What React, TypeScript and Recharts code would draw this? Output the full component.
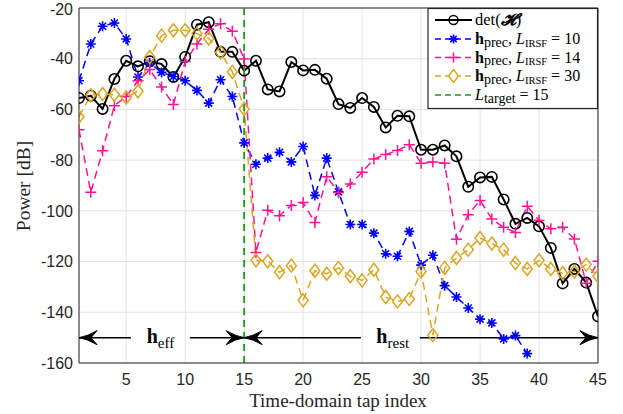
import React from 'react';
import { ComposedChart, Line, Scatter, XAxis, YAxis, CartesianGrid, ReferenceLine, Customized } from 'recharts';

const taps = [1, 2, 3, 4, 5, 6, 7, 8, 9, 10, 11, 12, 13, 14, 15, 16, 17, 18, 19, 20, 21, 22, 23, 24, 25, 26, 27, 28, 29, 30, 31, 32, 33, 34, 35, 36, 37, 38, 39, 40, 41, 42, 43, 44, 45];

const detH = [-55.5, -54.6, -59.8, -48.0, -40.8, -43.0, -41.0, -42.1, -47.2, -39.3, -26.6, -25.6, -37.3, -37.3, -44.7,
  -40.8, -52.1, -52.9, -41.3, -44.6, -44.4, -47.9, -57.9, -59.4, -55.5, -59.0, -67.1, -62.5, -62.7, -75.9,
  -75.9, -74.2, -78.5, -90.5, -86.8, -86.6, -95.5, -105.1, -102.8, -106.1, -114.6, -128.6, -122.9, -128.3, -141.6];

const precL10 = [-48.7, -34.2, -27.2, -25.9, -32.2, -47.2, -41.7, -45.4, -47.0, -48.7, -52.5, -57.5, -48.3, -54.9, -73.2,
  -81.6, -79.2, -76.9, -80.7, -74.6, -93.9, -79.2, -92.5, -105.4, -105.4, -108.8, -116.9, -117.9, -108.1, -121.4,
  -117.5, -129.5, -134.0, -138.3, -142.7, -144.2, -150.5, -149.2, -156.3, null, null, null, null, null, null];

const precL14 = [-68.0, -92.7, -76.3, -58.5, -54.9, -48.7, -44.3, -51.2, -58.1, -41.1, -34.2, -28.4, -26.2, -29.2, -40.1,
  -116.4, -99.8, -101.9, -97.9, -96.7, -104.6, -86.5, -92.8, -89.4, -84.8, -79.5, -77.8, -76.2, -73.9, -81.2,
  -80.7, -81.2, -111.2, -101.5, -95.9, -103.2, -106.5, -108.5, -98.2, -103.7, -107.1, -106.5, -111.1, -128.5, -119.9];

const precL30 = [-62.9, -54.4, -53.9, -54.2, -55.3, -52.8, -39.3, -30.9, -28.8, -28.8, -30.1, -32.0, -37.5, -45.2, -59.8,
  -119.5, -119.9, -124.2, -121.6, -135.3, -123.6, -124.8, -122.5, -125.8, -127.4, -123.2, -134.0, -135.7, -134.8, -123.9,
  -149.0, -122.5, -118.6, -115.3, -110.7, -112.9, -115.3, -120.6, -122.9, -119.5, -122.9, -124.6, -123.9, -121.2, -125.8];

const xTicks = [5, 10, 15, 20, 25, 30, 35, 40, 45];
const yTicks = [-160, -140, -120, -100, -80, -60, -40, -20];

const targetTap = 15;
const arrowLevel = -150;
const arrowHeads = [
  { tap: 1, level: arrowLevel, dir: -1 },
  { tap: 15, level: arrowLevel, dir: 1 },
  { tap: 15, level: arrowLevel, dir: -1 },
  { tap: 45, level: arrowLevel, dir: 1 },
];
const arrowTexts = [
  { tap: 7.9, level: arrowLevel, sub: 'eff' },
  { tap: 27.6, level: arrowLevel, sub: 'rest' },
];
const arrowSegments = [
  [1, 5.4], [10.4, 15], [15, 24.9], [29.9, 45],
];

const data = taps.map((tap, i) => ({
  tap,
  det: detH[i],
  l10: precL10[i],
  l14: precL14[i],
  l30: precL30[i],
}));

const BLUE = '#0000ff';
const PINK = '#ff1493';
const GOLD = '#daa520';
const GREEN = '#1a9a1a';
const AXIS = '#262626';
const SERIF = '"Liberation Serif", "DejaVu Serif", serif';
const SANS = '"Liberation Sans", Arial, sans-serif';

const circleDot = (p: any) => (p.cx == null || p.cy == null ? <g key={p.index} /> :
  <circle key={p.index} cx={p.cx} cy={p.cy} r={5.2} fill="none" stroke="#000" strokeWidth={1.6} />);

const starPath = (cx: number, cy: number, s: number) =>
  `M${cx - s},${cy}L${cx + s},${cy}M${cx},${cy - s}L${cx},${cy + s}` +
  `M${cx - s * 0.7},${cy - s * 0.7}L${cx + s * 0.7},${cy + s * 0.7}M${cx - s * 0.7},${cy + s * 0.7}L${cx + s * 0.7},${cy - s * 0.7}`;

const starDot = (p: any) => (p.cx == null || p.cy == null || p.value == null ? <g key={p.index} /> :
  <path key={p.index} d={starPath(p.cx, p.cy, 5)} stroke={BLUE} strokeWidth={1.6} fill="none" />);

const plusPath = (cx: number, cy: number, s: number) => `M${cx - s},${cy}L${cx + s},${cy}M${cx},${cy - s}L${cx},${cy + s}`;

const plusDot = (p: any) => (p.cx == null || p.cy == null ? <g key={p.index} /> :
  <path key={p.index} d={plusPath(p.cx, p.cy, 5.5)} stroke={PINK} strokeWidth={1.5} fill="none" />);

const diamondPath = (cx: number, cy: number) =>
  `M${cx},${cy - 6.5}L${cx + 5},${cy}L${cx},${cy + 6.5}L${cx - 5},${cy}Z`;

const diamondDot = (p: any) => (p.cx == null || p.cy == null ? <g key={p.index} /> :
  <path key={p.index} d={diamondPath(p.cx, p.cy)} stroke={GOLD} strokeWidth={1.5} fill="none" />);

const ArrowHead = (p: any) => {
  const { cx, cy } = p;
  const d = p.payload.dir;
  const L = 18;
  const H = 7;
  const path = `M${cx},${cy}Q${cx - d * 9},${cy - 1.5} ${cx - d * L},${cy - H}L${cx - d * (L - 6)},${cy}L${cx - d * L},${cy + H}Q${cx - d * 9},${cy + 1.5} ${cx},${cy}Z`;
  return <path d={path} fill="#000" stroke="#000" strokeWidth={1} />;
};

const ArrowText = (p: any) => (
  <text x={p.cx} y={p.cy + 5} textAnchor="middle" fontFamily={SERIF} fill="#000">
    <tspan fontSize={20} fontWeight="bold">h</tspan>
    <tspan fontSize={15} dy={5}>{p.payload.sub}</tspan>
  </text>
);

const legendRows = [
  { key: 'det', color: '#000', dash: undefined, y: 20 },
  { key: 'l10', color: BLUE, dash: '6 4', y: 39 },
  { key: 'l14', color: PINK, dash: '6 4', y: 57.5 },
  { key: 'l30', color: GOLD, dash: '6 4', y: 76 },
  { key: 'target', color: GREEN, dash: '6 4', y: 95 },
];

const LegendBox = () => (
  <g>
    <rect x={428} y={8.5} width={169.5} height={100} fill="#fff" stroke={AXIS} strokeWidth={1.2} />
    {legendRows.map((r) => (
      <g key={r.key}>
        <line x1={435} x2={472} y1={r.y} y2={r.y} stroke={r.color} strokeWidth={r.key === 'det' ? 2 : 1.5} strokeDasharray={r.dash} />
        {r.key === 'det' && <circle cx={453.5} cy={r.y} r={4.5} fill="none" stroke="#000" strokeWidth={1.5} />}
        {r.key === 'l10' && <path d={starPath(453.5, r.y, 4.5)} stroke={BLUE} strokeWidth={1.6} />}
        {r.key === 'l14' && <path d={plusPath(453.5, r.y, 5)} stroke={PINK} strokeWidth={1.5} />}
        {r.key === 'l30' && <path d={diamondPath(453.5, r.y)} stroke={GOLD} strokeWidth={1.5} fill="#fff" />}
      </g>
    ))}
    <text x={475} y={25} fontFamily={SERIF} fontSize={16.5} fill="#000">
      det(<tspan fontWeight="bold" fontStyle="italic">𝓗</tspan>)
    </text>
    {[{ y: 44, v: '10' }, { y: 62.5, v: '14' }, { y: 81, v: '30' }].map((r) => (
      <text key={r.v} x={475} y={r.y} fontFamily={SERIF} fontSize={16} fill="#000">
        <tspan fontWeight="bold">h</tspan>
        <tspan fontSize={14} dy={2.5}>prec</tspan>
        <tspan dy={-2.5}>, </tspan>
        <tspan fontStyle="italic">L</tspan>
        <tspan fontSize={10.5} dy={2.5}>IRSF</tspan>
        <tspan dy={-2.5}> = {r.v}</tspan>
      </text>
    ))}
    <text x={475} y={100} fontFamily={SERIF} fontSize={16} fill="#000">
      <tspan fontStyle="italic">L</tspan>
      <tspan fontSize={14} dy={2.5}>target</tspan>
      <tspan dy={-2.5}> = 15</tspan>
    </text>
  </g>
);

const AxisTitles = () => (
  <g>
    <text x={338} y={407} textAnchor="middle" fontFamily={SERIF} fontSize={19} fill={AXIS}>Time-domain tap index</text>
    <text x={30} y={186} textAnchor="middle" fontFamily={SERIF} fontSize={19.5} fill={AXIS} transform="rotate(-90 30 186)">Power [dB]</text>
  </g>
);

export default function App() {
  return (
    <div style={{ position: 'absolute', left: 0, top: 0, background: '#fff' }}>
      <ComposedChart width={623} height={414} data={data} margin={{ top: 8, right: 25, bottom: 0, left: 0 }}>
        <CartesianGrid stroke="#e3e3e3" strokeWidth={1} />
        <XAxis
          dataKey="tap"
          type="number"
          domain={[1, 45]}
          ticks={xTicks}
          allowDataOverflow
          height={51}
          tickLine={false}
          tickSize={6}
          tickMargin={5}
          axisLine={{ stroke: AXIS, strokeWidth: 1 }}
          tick={{ fill: AXIS, fontSize: 16, fontFamily: SANS }}
        />
        <YAxis
          type="number"
          domain={[-160, -20]}
          ticks={yTicks}
          allowDataOverflow
          width={79}
          tickLine={false}
          tickSize={6}
          tickMargin={0}
          axisLine={{ stroke: AXIS, strokeWidth: 1 }}
          tick={{ fill: AXIS, fontSize: 16, fontFamily: SANS }}
        />
        <ReferenceLine y={-20} stroke={AXIS} strokeWidth={1} />
        <ReferenceLine x={45} stroke={AXIS} strokeWidth={1} />
        {arrowSegments.map(([a, b]) => (
          <ReferenceLine key={`${a}-${b}`} segment={[{ x: a, y: arrowLevel }, { x: b, y: arrowLevel }]} stroke="#000" strokeWidth={1.5} />
        ))}
        <Line type="linear" dataKey="det" stroke="#000" strokeWidth={2} dot={circleDot} isAnimationActive={false} />
        <Line type="linear" dataKey="l10" stroke={BLUE} strokeWidth={1.5} strokeDasharray="8 5" dot={starDot} isAnimationActive={false} />
        <Line type="linear" dataKey="l14" stroke={PINK} strokeWidth={1.5} strokeDasharray="8 5" dot={plusDot} isAnimationActive={false} />
        <Line type="linear" dataKey="l30" stroke={GOLD} strokeWidth={1.5} strokeDasharray="8 5" dot={diamondDot} isAnimationActive={false} />
        <ReferenceLine x={targetTap} stroke={GREEN} strokeWidth={1.8} strokeDasharray="7 5" />
        <Scatter data={arrowHeads} dataKey="level" shape={ArrowHead} isAnimationActive={false} />
        <Scatter data={arrowTexts} dataKey="level" shape={ArrowText} isAnimationActive={false} />
        <Customized component={LegendBox} />
        <Customized component={AxisTitles} />
      </ComposedChart>
    </div>
  );
}
